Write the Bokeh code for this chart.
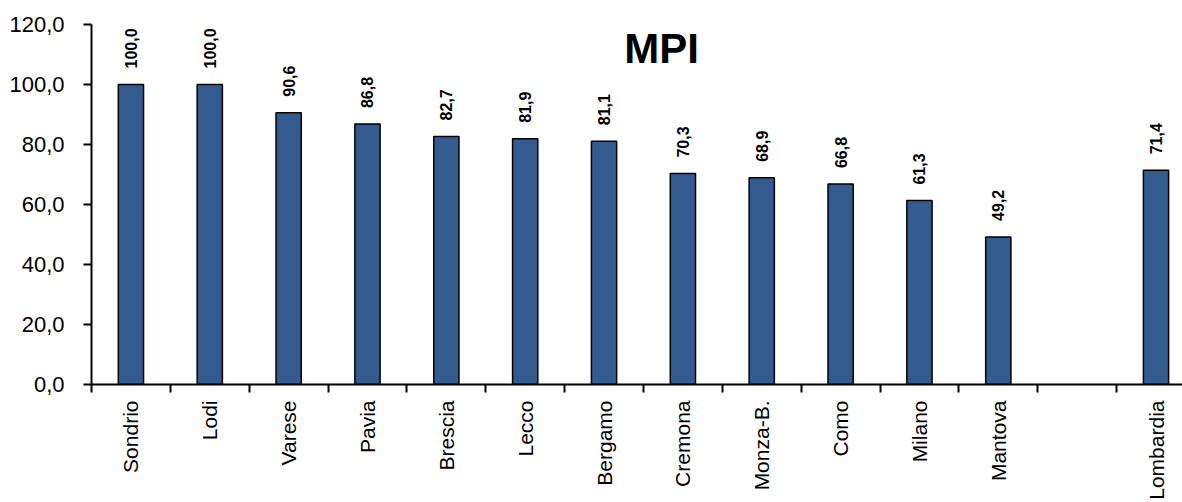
import math
from bokeh.plotting import figure
from bokeh.models import ColumnDataSource, FixedTicker, Label
from bokeh.core.properties import value
from bokeh.embed import file_html
from bokeh.resources import INLINE

# ---- data ----
categories = ["Sondrio", "Lodi", "Varese", "Pavia", "Brescia", "Lecco", "Bergamo",
              "Cremona", "Monza-B.", "Como", "Milano", "Mantova", "", "Lombardia"]
mpi_values = [100.0, 100.0, 90.6, 86.8, 82.7, 81.9, 81.1, 70.3, 68.9, 66.8, 61.3, 49.2, None, 71.4]
y_ticks = [0, 20, 40, 60, 80, 100, 120]
y_tick_labels = ["0,0", "20,0", "40,0", "60,0", "80,0", "100,0", "120,0"]
title_text = "MPI"

# ---- derived ----
xs, tops, labels = [], [], []
for i, v in enumerate(mpi_values):
    if v is None:
        continue
    xs.append(i + 0.5)
    tops.append(v)
    labels.append(f"{v:.1f}".replace(".", ","))
src = ColumnDataSource(dict(x=xs, top=tops, label=labels))

FONT = "Liberation Sans, Arial, sans-serif"

W, H = 1182, 502
p = figure(width=W, height=H, output_backend="svg", toolbar_location=None,
           x_range=(0, 13.836), y_range=(0, 120),
           min_border_left=91, min_border_right=0, min_border_top=24, min_border_bottom=10)
p.outline_line_color = None
p.xgrid.visible = False
p.ygrid.visible = False
p.background_fill_color = "white"
p.border_fill_color = "white"

p.vbar(x="x", top="top", bottom=0, width=0.32, source=src,
       fill_color="#345B8F", line_color="black", line_width=1.5)

p.text(x="x", y="top", text="label", source=src, angle=math.pi / 2,
       text_align="left", text_baseline="middle", y_offset=-16,
       text_font=value(FONT), text_font_style="bold", text_font_size="16px",
       text_color="black")

# y axis
ya = p.yaxis[0]
ya.ticker = FixedTicker(ticks=y_ticks)
ya.major_label_overrides = {t: l for t, l in zip(y_ticks, y_tick_labels)}
ya.major_label_text_font = FONT
ya.major_label_text_font_size = "22px"
ya.major_label_text_color = "black"
ya.major_tick_in = 0
ya.major_tick_out = 8
ya.minor_tick_line_color = None
ya.axis_line_width = 2
ya.major_tick_line_width = 2
ya.axis_line_color = "black"
ya.major_tick_line_color = "black"
ya.major_label_standoff = 19

# x axis: labels at slot centres, tick marks at slot borders
xa = p.xaxis[0]
xa.ticker = FixedTicker(ticks=[i + 0.5 for i in range(len(categories))],
                        minor_ticks=list(range(len(categories))))
xa.major_label_overrides = {i + 0.5: c for i, c in enumerate(categories)}
xa.major_label_orientation = math.pi / 2
xa.major_label_text_font = FONT
xa.major_label_text_font_size = "21px"
xa.major_label_text_color = "black"
xa.major_tick_in = 0
xa.major_tick_out = 0
xa.minor_tick_in = 0
xa.minor_tick_out = 8
xa.minor_tick_line_color = "black"
xa.minor_tick_line_width = 2
xa.axis_line_width = 2
xa.axis_line_color = "black"
xa.major_label_standoff = 8

p.add_layout(Label(x=7.23, y=112, text=title_text, text_align="center", text_baseline="middle",
                   text_font=FONT, text_font_style="bold", text_font_size="42px",
                   text_color="black"))

open("out.html", "w").write(file_html(p, INLINE))
